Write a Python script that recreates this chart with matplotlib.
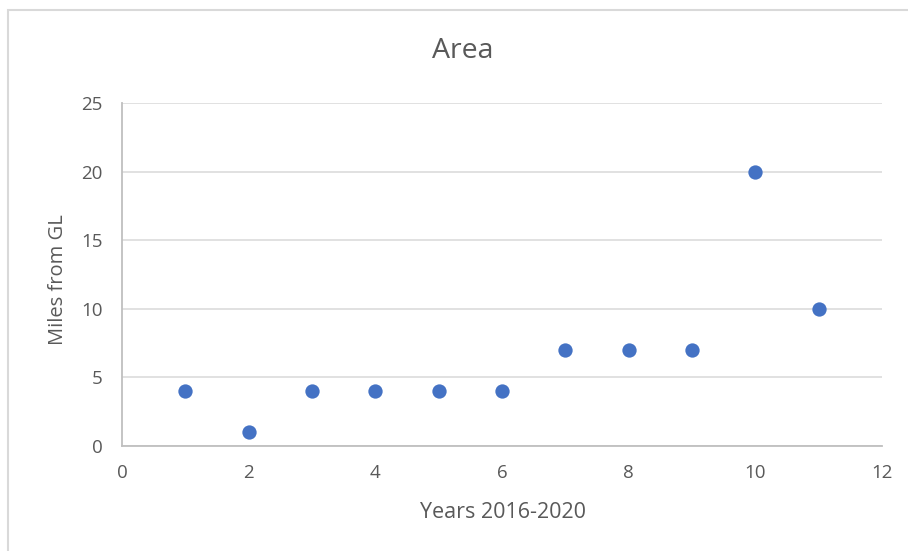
import matplotlib
matplotlib.use("Agg")
import matplotlib.pyplot as plt
from matplotlib.patches import Rectangle

years = [1, 2, 3, 4, 5, 6, 7, 8, 9, 10, 11]
miles = [4, 1, 4, 4, 4, 4, 7, 7, 7, 20, 10]
x_ticks = [0, 2, 4, 6, 8, 10, 12]
y_ticks = [0, 5, 10, 15, 20, 25]

plt.rcParams['font.family'] = ['Open Sans', 'DejaVu Sans']
text_color = '#595959'

W, H = 908, 551
fig = plt.figure(figsize=(W / 100, H / 100), dpi=100)
ax = fig.add_axes([122 / W, 1 - 446 / H, (882 - 122) / W, (446 - 103) / H])

ax.scatter(years, miles, s=10.3 ** 2, color='#4472C4', zorder=3, linewidths=0)

ax.set_xlim(0, 12)
ax.set_ylim(0, 25)
ax.set_xticks(x_ticks)
ax.set_yticks(y_ticks)
ax.grid(axis='y', color='#D9D9D9', linewidth=1.1)
ax.set_axisbelow(True)
for side in ('top', 'right'):
    ax.spines[side].set_visible(False)
for side in ('left', 'bottom'):
    ax.spines[side].set_color('#BFBFBF')
    ax.spines[side].set_linewidth(1.3)
ax.tick_params(length=0, labelsize=13.5, labelcolor=text_color)
ax.tick_params(axis='x', pad=13)
ax.tick_params(axis='y', pad=14)

fig.text(503 / W, 1 - 512 / H, 'Years 2016-2020', fontsize=15.5,
         color=text_color, ha='center', va='center')
fig.text(58 / W, 1 - 280 / H, 'Miles from GL', fontsize=14.5,
         color=text_color, ha='center', va='center', rotation=90)
fig.text(463 / W, 1 - 51 / H, 'Area', fontsize=20.5, color=text_color,
         ha='center', va='center')

# Chart frame; only its top and left edges fall inside the canvas
fig.patches.append(Rectangle((7.5 / W, -0.1), 1.2, 1 - 9.5 / H + 0.1,
                             transform=fig.transFigure, fill=False,
                             edgecolor='#D9D9D9', linewidth=1.5))

fig.savefig('out.png', dpi=100, facecolor='white')
